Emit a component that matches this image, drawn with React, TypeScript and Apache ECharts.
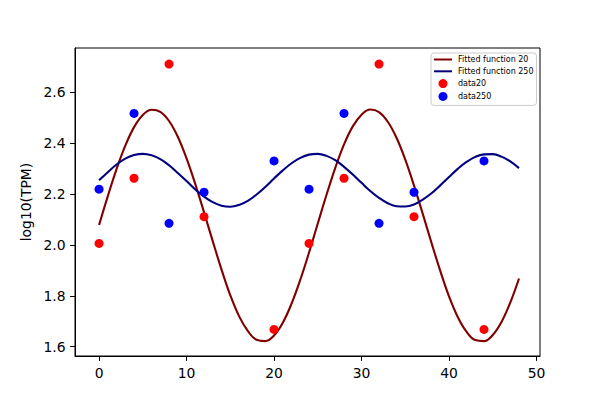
import React, { useEffect, useRef } from "react";
import * as echarts from "echarts";

const curveX = [
  0, 1, 2, 3, 4, 5, 6, 7, 8, 9, 10, 11, 12, 13, 14, 15, 16, 17, 18, 19, 20, 21, 22, 23, 24,
  25, 26, 27, 28, 29, 30, 31, 32, 33, 34, 35, 36, 37, 38, 39, 40, 41, 42, 43, 44, 45, 46, 47, 48,
];
const fit20 = [
  2.078, 2.192, 2.298, 2.39, 2.463, 2.511, 2.531, 2.523, 2.487, 2.425, 2.34, 2.239, 2.128, 2.014, 1.903, 1.802, 1.72,
  1.662, 1.627, 1.622, 1.644, 1.694, 1.769, 1.863, 1.97, 2.084, 2.197, 2.303, 2.395, 2.466, 2.512, 2.532, 2.522,
  2.484, 2.421, 2.335, 2.233, 2.122, 2.008, 1.898, 1.798, 1.717, 1.659, 1.626, 1.622, 1.646, 1.697, 1.773, 1.868,
];
const fit250 = [
  2.254, 2.286, 2.316, 2.339, 2.353, 2.358, 2.352, 2.337, 2.313, 2.283, 2.251, 2.218, 2.19, 2.168, 2.154, 2.15, 2.157,
  2.173, 2.198, 2.228, 2.261, 2.293, 2.321, 2.342, 2.355, 2.358, 2.35, 2.333, 2.307, 2.277, 2.244, 2.212, 2.185,
  2.164, 2.152, 2.151, 2.159, 2.178, 2.203, 2.234, 2.267, 2.299, 2.326, 2.346, 2.356, 2.357, 2.347, 2.328, 2.302,
];

// sample points
const sampleX = [0, 4, 8, 12, 20, 24, 28, 32, 36, 44];
const data20 = [2.006, 2.262, 2.711, 2.111, 1.668, 2.006, 2.262, 2.711, 2.111, 1.668];
const data250 = [2.219, 2.517, 2.085, 2.207, 2.33, 2.219, 2.517, 2.085, 2.207, 2.33];

const xTicks = [0, 10, 20, 30, 40, 50];
const yTicks = [1.6, 1.8, 2.0, 2.2, 2.4, 2.6];

const seriesNames = ["Fitted function 20", "Fitted function 250", "data20", "data250"];

const FONT = "DejaVu Sans";

export default function App() {
  const ref = useRef<HTMLDivElement>(null);
  useEffect(() => {
    document.body.style.margin = "0";
    if (!ref.current) return;
    const chart = echarts.init(ref.current, undefined, { renderer: "svg" });
    const pair = (xs: number[], ys: number[]) => xs.map((x, i) => [x, ys[i]]);
    const hiddenSymbol = { color: "rgba(0,0,0,0)", borderColor: "rgba(0,0,0,0)", borderWidth: 0, opacity: 0 };
    chart.setOption({
      animation: false,
      textStyle: { fontFamily: FONT },
      grid: {
        left: 75,
        right: 60,
        top: 48,
        bottom: 44,
        show: true,
        borderColor: "#000",
        borderWidth: 1,
        backgroundColor: "transparent",
      },
      legend: {
        orient: "vertical",
        left: 431,
        top: 53,
        padding: [2.5, 3, 4.5, 2],
        itemWidth: 18,
        itemHeight: 9,
        itemGap: 3.8,
        backgroundColor: "rgba(255,255,255,0.8)",
        borderColor: "#cccccc",
        borderWidth: 1,
        borderRadius: 3,
        textStyle: { fontSize: 8, fontFamily: FONT, color: "#000", padding: [0, 0, 0, 1] },
        data: [
          { name: seriesNames[0], itemStyle: hiddenSymbol },
          { name: seriesNames[1], itemStyle: hiddenSymbol },
          { name: seriesNames[2], icon: "circle" },
          { name: seriesNames[3], icon: "circle" },
        ],
      },
      xAxis: {
        type: "value",
        min: -2.75,
        max: 50.4,
        splitLine: { show: false },
        axisLine: { show: true, onZero: false, lineStyle: { color: "#000", width: 1 } },
        axisTick: { show: true, length: 4.9, customValues: xTicks, lineStyle: { color: "#000", width: 1 } },
        axisLabel: {
          customValues: xTicks,
          margin: 10,
          fontSize: 13.9,
          color: "#000",
          fontFamily: FONT,
        },
      },
      yAxis: {
        type: "value",
        min: 1.5634,
        max: 2.774,
        name: "log10(TPM)",
        nameLocation: "middle",
        nameGap: 37,
        nameTextStyle: { fontSize: 13.9, color: "#000", fontFamily: FONT },
        splitLine: { show: false },
        axisLine: { show: true, onZero: false, lineStyle: { color: "#000", width: 1 } },
        axisTick: { show: true, length: 4.9, customValues: yTicks, lineStyle: { color: "#000", width: 1 } },
        axisLabel: {
          customValues: yTicks,
          margin: 9.5,
          fontSize: 13.9,
          color: "#000",
          fontFamily: FONT,
          formatter: (v: number) => v.toFixed(1),
        },
      },
      series: [
        {
          name: seriesNames[0],
          type: "line",
          data: pair(curveX, fit20),
          smooth: 0.4,
          symbol: "none",
          lineStyle: { color: "#800000", width: 2.1 },
          itemStyle: { color: "#800000" },
          z: 2,
        },
        {
          name: seriesNames[1],
          type: "line",
          data: pair(curveX, fit250),
          smooth: 0.4,
          symbol: "none",
          lineStyle: { color: "#000080", width: 2.1 },
          itemStyle: { color: "#000080" },
          z: 2,
        },
        {
          name: seriesNames[2],
          type: "scatter",
          data: pair(sampleX, data20),
          symbol: "circle",
          symbolSize: 9,
          itemStyle: { color: "#ff0000", opacity: 1 },
          z: 3,
        },
        {
          name: seriesNames[3],
          type: "scatter",
          data: pair(sampleX, data250),
          symbol: "circle",
          symbolSize: 9,
          itemStyle: { color: "#0000ff", opacity: 1 },
          z: 3,
        },
      ],
    });
    return () => chart.dispose();
  }, []);
  return <div ref={ref} style={{ width: 600, height: 400 }} />;
}
